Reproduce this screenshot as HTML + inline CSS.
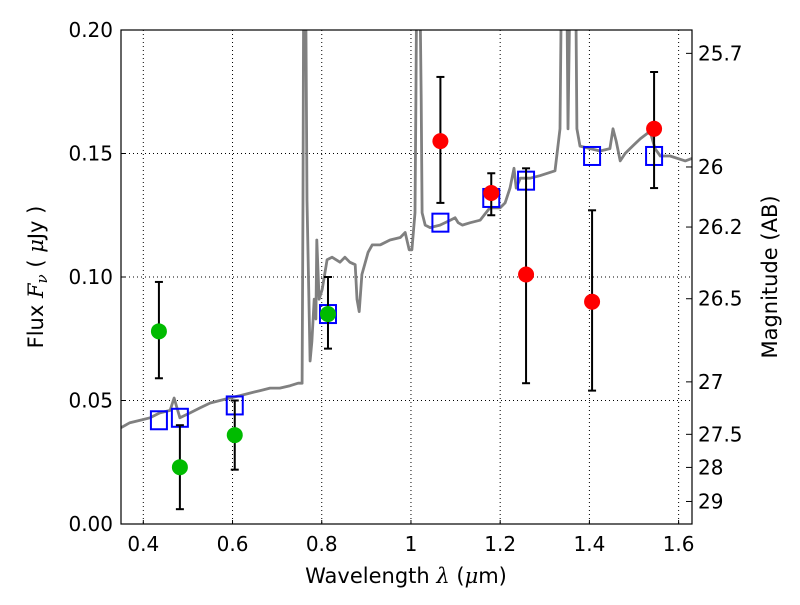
<!DOCTYPE html>
<html><head><meta charset="utf-8"><style>
body{margin:0;background:#fff;}
svg{font-family:"DejaVu Sans","Liberation Sans",sans-serif;}
</style></head><body>
<svg id="chart" width="800" height="600" viewBox="0 0 800 600" xmlns="http://www.w3.org/2000/svg">
<defs><clipPath id="clip"><rect x="121" y="30" width="571" height="494"/></clipPath></defs>
<rect x="0" y="0" width="800" height="600" fill="#fff"/>
<g id="grid"></g>
<g id="series" clip-path="url(#clip)"></g>
<g id="axes"></g>
<text x="406" y="583" font-size="21" text-anchor="middle">Wavelength  <tspan font-family="DejaVu Serif, serif" font-style="italic">λ</tspan> (<tspan font-family="DejaVu Serif, serif" font-style="italic">μ</tspan>m)</text>
<text transform="translate(43,277) rotate(-90)" font-size="21" text-anchor="middle">Flux  <tspan font-family="DejaVu Serif, serif" font-style="italic">F<tspan font-size="15" dy="4">ν</tspan></tspan><tspan dy="-4">  ( </tspan><tspan font-family="DejaVu Serif, serif" font-style="italic">μ</tspan>Jy )</text>
<text transform="translate(777,277) rotate(-90)" font-size="21" text-anchor="middle">Magnitude (AB)</text>
</svg>
<script>
const specWave=[0.350,0.370,0.393,0.415,0.437,0.460,0.469,0.482,0.505,0.527,0.550,0.572,0.594,0.617,0.639,0.662,0.684,0.706,0.729,0.747,0.756,0.758,0.760,0.763,0.767,0.774,0.778,0.783,0.787,0.789,0.794,0.801,0.812,0.823,0.841,0.852,0.863,0.875,0.879,0.884,0.890,0.904,0.913,0.931,0.953,0.976,0.987,0.991,0.996,1.002,1.009,1.011,1.014,1.018,1.023,1.025,1.032,1.043,1.065,1.088,1.099,1.106,1.115,1.133,1.155,1.177,1.200,1.211,1.222,1.231,1.236,1.245,1.267,1.289,1.323,1.334,1.339,1.348,1.352,1.359,1.368,1.372,1.379,1.402,1.424,1.446,1.453,1.460,1.469,1.480,1.491,1.514,1.536,1.547,1.559,1.581,1.615,1.630];
const specFlux=[0.039,0.041,0.042,0.043,0.045,0.046,0.051,0.043,0.045,0.047,0.049,0.050,0.051,0.052,0.053,0.054,0.055,0.055,0.056,0.057,0.057,0.131,0.25,0.25,0.131,0.066,0.074,0.091,0.083,0.115,0.091,0.095,0.107,0.108,0.106,0.108,0.106,0.105,0.091,0.086,0.101,0.110,0.113,0.113,0.115,0.116,0.118,0.115,0.111,0.111,0.126,0.172,0.25,0.25,0.172,0.126,0.121,0.120,0.121,0.123,0.124,0.122,0.121,0.122,0.123,0.128,0.128,0.130,0.136,0.144,0.136,0.140,0.140,0.141,0.143,0.160,0.25,0.25,0.160,0.25,0.25,0.160,0.153,0.152,0.151,0.152,0.160,0.155,0.147,0.150,0.152,0.156,0.159,0.152,0.149,0.149,0.147,0.148];
const greenWave=[0.435,0.482,0.605,0.814];
const greenFlux=[0.078,0.023,0.036,0.085];
const greenLo=[0.059,0.006,0.022,0.071];
const greenHi=[0.098,0.040,0.050,0.100];
const redWave=[1.066,1.180,1.258,1.406,1.545];
const redFlux=[0.155,0.134,0.101,0.090,0.160];
const redLo=[0.130,0.125,0.057,0.054,0.136];
const redHi=[0.181,0.142,0.144,0.127,0.183];
const modelWave=[0.435,0.482,0.605,0.814,1.066,1.180,1.258,1.406,1.545];
const modelFlux=[0.042,0.043,0.048,0.085,0.122,0.132,0.139,0.149,0.149];
const xTicks=[0.4,0.6,0.8,1.0,1.2,1.4,1.6];
const xTickLabels=["0.4","0.6","0.8","1","1.2","1.4","1.6"];
const yTicks=[0,0.05,0.10,0.15,0.20];
const yTickLabels=["0.00","0.05","0.10","0.15","0.20"];
const magTicks=[25.7,26,26.2,26.5,27,27.5,28,29];
const magTickLabels=["25.7","26","26.2","26.5","27","27.5","28","29"];

const X0=121,X1=692,Y0=524,Y1=30,XMIN=0.35,XMAX=1.63,YMIN=0,YMAX=0.2;
function sx(v){return X0+(v-XMIN)/(XMAX-XMIN)*(X1-X0);}
function sy(v){return Y0-(v-YMIN)/(YMAX-YMIN)*(Y0-Y1);}
function magToFlux(m){return Math.pow(10,(23.9-m)/2.5);}
const NS="http://www.w3.org/2000/svg";
function mk(tag,attrs,parent){const e=document.createElementNS(NS,tag);for(const k in attrs)e.setAttribute(k,attrs[k]);parent.appendChild(e);return e;}
const grid=document.getElementById('grid'),series=document.getElementById('series'),axes=document.getElementById('axes');

xTicks.forEach((t,i)=>{
  const g=mk('line',{x1:sx(t),x2:sx(t),y1:Y1,y2:Y0,stroke:'#000','stroke-width':1,'stroke-dasharray':'1,3'},grid);
  
  
  const tk=mk('line',{x1:sx(t),x2:sx(t),y1:Y0,y2:Y0-4,stroke:'#000'},axes);
  
  
  const tx=mk('text',{x:sx(t),y:Y0+27,'font-size':20,'text-anchor':'middle'},axes);
  tx.textContent=xTickLabels[i];
  
  
});
yTicks.forEach((t,i)=>{
  if(t>0&&t<0.2){const g=mk('line',{x1:X0,x2:X1,y1:sy(t),y2:sy(t),stroke:'#000','stroke-width':1,'stroke-dasharray':'1,3'},grid);
  
  }
  const tk=mk('line',{x1:X0,x2:X0+4,y1:sy(t),y2:sy(t),stroke:'#000'},axes);
  
  
  const tx=mk('text',{x:X0-8,y:sy(t)+7,'font-size':20,'text-anchor':'end'},axes);
  tx.textContent=yTickLabels[i];
  
  
});
magTicks.forEach((m,i)=>{
  const y=sy(magToFlux(m));
  const tk=mk('line',{x1:X1,x2:X1-6,y1:y,y2:y,stroke:'#000'},axes);
  
  
  const tx=mk('text',{x:X1+6,y:y+7,'font-size':20,'text-anchor':'start'},axes);
  tx.textContent=magTickLabels[i];
  
  
});
const pts=specWave.map((w,i)=>sx(w).toFixed(1)+','+sy(specFlux[i]).toFixed(1)).join(' ');
const sp=mk('polyline',{points:pts,fill:'none',stroke:'#808080','stroke-width':2.8,'stroke-linejoin':'round'},series);


modelWave.forEach((w,i)=>{
  const r=mk('rect',{x:sx(w)-8,y:sy(modelFlux[i])-9,width:16,height:18,fill:'none',stroke:'#0000ff','stroke-width':2},series);
  
  
});
function errPts(wv,fl,lo,hi,color,name){
  wv.forEach((w,i)=>{
    const x=sx(w);
    const l=mk('line',{x1:x,x2:x,y1:sy(lo[i]),y2:sy(hi[i]),stroke:'#000','stroke-width':2},series);
    
    
    mk('line',{x1:x-4,x2:x+4,y1:sy(lo[i]),y2:sy(lo[i]),stroke:'#000','stroke-width':2},series);
    mk('line',{x1:x-4,x2:x+4,y1:sy(hi[i]),y2:sy(hi[i]),stroke:'#000','stroke-width':2},series);
    const c=mk('circle',{cx:x,cy:sy(fl[i]),r:8,fill:color},series);
    
    
  });
}
errPts(greenWave,greenFlux,greenLo,greenHi,'#00bb00','green-measurement');
errPts(redWave,redFlux,redLo,redHi,'#ff0000','red-measurement');
const fr=mk('rect',{x:X0,y:Y1,width:X1-X0,height:Y0-Y1,fill:'none',stroke:'#000','stroke-width':1.2},axes);


</script>
</body></html>
